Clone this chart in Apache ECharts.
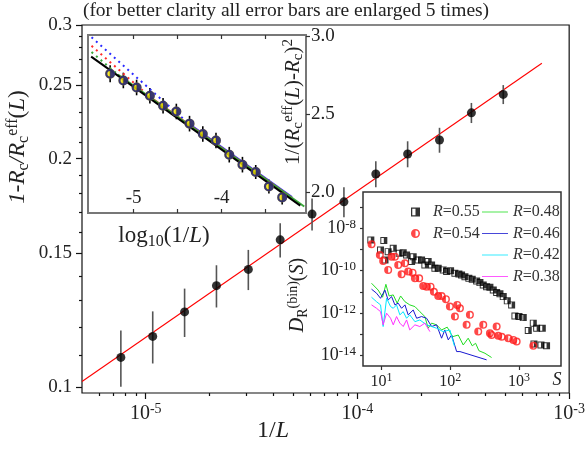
<!DOCTYPE html>
<html>
<head>
<meta charset="utf-8">
<script src="https://cdn.jsdelivr.net/npm/echarts@6/dist/echarts.min.js"></script>
<style>
html, body { margin: 0; padding: 0; background: #fff; }
#chart { width: 588px; height: 449px; }
</style>
</head>
<body>
<div id="chart"></div>
<script>
"use strict";

// main panel: 1/L against 1 - Rc/Rc_eff(L) (error bars already x5)
var invL = [7.63e-6, 1.079e-5, 1.526e-5, 2.158e-5, 3.052e-5, 4.316e-5, 6.104e-5, 8.632e-5, 1.221e-4, 1.726e-4, 2.441e-4, 3.453e-4, 4.883e-4];
var gap = [0.1094, 0.1166, 0.1256, 0.1360, 0.1429, 0.1563, 0.1690, 0.1754, 0.1909, 0.2028, 0.2116, 0.2298, 0.2430];
var gapErr = [0.0093, 0.0092, 0.0092, 0.0087, 0.0087, 0.0081, 0.0082, 0.0080, 0.0075, 0.0080, 0.0080, 0.0070, 0.0070];
var fitLine = [[5e-6, 0.1017], [7.43e-4, 0.2671]];

var xMajor = [1e-5, 1e-4, 1e-3];
var xMinor = [6e-6, 7e-6, 8e-6, 9e-6, 2e-5, 3e-5, 4e-5, 5e-5, 6e-5, 7e-5, 8e-5, 9e-5, 2e-4, 3e-4, 4e-4, 5e-4, 6e-4, 7e-4, 8e-4, 9e-4];
var yMajor = [0.1, 0.15, 0.2, 0.25, 0.3];
var yMinor = [0.11, 0.12, 0.13, 0.14, 0.16, 0.17, 0.18, 0.19, 0.21, 0.22, 0.23, 0.24, 0.26, 0.27, 0.28, 0.29];

// top-left inset: log10(1/L) against 1/(Rc_eff(L)-Rc)^2
var logInvL = [-5.268, -5.118, -4.967, -4.816, -4.666, -4.515, -4.365, -4.214, -4.064, -3.913, -3.763, -3.612, -3.462, -3.311];
var invSq = [2.761, 2.718, 2.673, 2.620, 2.556, 2.519, 2.441, 2.375, 2.333, 2.242, 2.178, 2.131, 2.038, 1.968];
var invSqErr = [0.055, 0.05, 0.05, 0.05, 0.05, 0.05, 0.05, 0.05, 0.05, 0.05, 0.05, 0.045, 0.045, 0.045];
var fitBlack = [[-5.484, 2.871], [-3.105, 1.915]];
var fitGreen = [[-5.18, 2.756], [-3.06, 1.91]];
var fitRed = [[-4.82, 2.615], [-3.2, 1.965]];
var fitBlue = [[-4.36, 2.434], [-3.2, 1.97]];
var dotGreen = [[-5.48, 2.90], [-5.18, 2.756]];
var dotRed = [[-5.48, 2.94], [-4.82, 2.615]];
var dotBlue = [[-5.48, 2.995], [-4.36, 2.434]];

// bottom-right inset, values read as [log10 S, log10 D]
var sq55 = [[0.844,-8.55],[1.033,-8.58],[0.985,-9.02],[1.05,-9.49],[1.096,-9.10],[1.17,-8.94],[1.256,-9.18],[1.315,-9.15],[1.364,-9.26],[1.437,-9.57],[1.46,-9.34],[1.533,-9.49],[1.582,-9.49],[1.63,-9.73],[1.678,-9.57],[1.728,-9.73],[1.776,-9.88],[1.824,-9.88],[1.897,-9.96],[1.946,-10.04],[2.004,-10.0],[2.067,-10.12],[2.125,-10.15],[2.164,-10.2],[2.213,-10.28],[2.27,-10.36],[2.319,-10.4],[2.383,-10.48],[2.431,-10.56],[2.479,-10.67],[2.528,-10.75],[2.576,-10.78],[2.625,-10.91],[2.674,-11.03],[2.722,-11.09],[2.77,-11.22],[2.829,-11.42],[2.892,-11.61],[2.94,-12.13],[2.999,-12.16],[3.061,-12.21],[3.134,-12.82],[3.207,-12.47],[3.256,-12.71],[3.338,-12.71],[3.217,-13.45],[3.319,-13.5],[3.40,-13.54]];
var ci54 = [[0.854,-8.75],[0.975,-9.26],[1.023,-9.54],[1.096,-9.96],[1.146,-9.34],[1.194,-9.34],[1.242,-9.73],[1.291,-10.17],[1.34,-9.65],[1.387,-10.04],[1.451,-10.09],[1.485,-10.36],[1.547,-10.36],[1.606,-10.72],[1.655,-10.75],[1.713,-10.75],[1.761,-10.99],[1.824,-11.19],[1.873,-11.19],[1.936,-11.34],[1.994,-11.69],[2.067,-12.16],[2.10,-11.61],[2.14,-11.77],[2.237,-12.55],[2.285,-12.08],[2.406,-12.87],[2.479,-12.55],[2.576,-12.95],[2.60,-13.03],[2.674,-12.63],[2.697,-13.07],[2.747,-13.11],[2.843,-13.18],[2.916,-13.26],[2.965,-13.34],[3.207,-13.54]];
var ln48 = [[0.854,-10.59],[0.95,-10.91],[1.015,-11.25],[1.063,-10.64],[1.11,-11.19],[1.17,-11.14],[1.227,-11.53],[1.277,-11.19],[1.34,-11.46],[1.41,-11.61],[1.485,-11.69],[1.557,-11.93],[1.63,-12.16],[1.678,-12.71],[1.728,-12.47],[1.80,-12.55],[1.873,-12.79],[1.955,-12.66],[2.033,-13.11],[2.115,-13.03],[2.188,-13.5],[2.26,-13.18],[2.319,-13.54],[2.368,-13.42],[2.416,-13.77],[2.504,-13.89],[2.60,-14.09]];
var ln46 = [[0.854,-10.87],[0.927,-11.06],[0.985,-11.30],[1.048,-10.91],[1.096,-11.38],[1.146,-11.22],[1.194,-11.61],[1.242,-11.53],[1.291,-11.77],[1.34,-11.61],[1.387,-12.08],[1.46,-11.85],[1.51,-12.24],[1.582,-12.16],[1.655,-12.24],[1.728,-12.63],[1.80,-12.55],[1.873,-13.18],[1.92,-12.79],[1.97,-13.26],[2.019,-13.03],[2.092,-13.81],[2.14,-13.81],[2.528,-14.2]];
var ln42 = [[0.854,-11.25],[0.927,-11.46],[0.985,-11.61],[1.023,-12.63],[1.073,-11.30],[1.131,-11.69],[1.17,-11.77],[1.218,-11.61],[1.266,-12.08],[1.315,-11.93],[1.364,-12.24],[1.41,-12.08],[1.485,-12.40],[1.557,-12.32],[1.655,-12.55],[1.728,-12.63],[1.80,-12.71],[1.897,-12.87],[1.994,-12.79],[2.02,-13.1],[2.06,-13.55]];
var ln38 = [[0.854,-11.61],[0.927,-11.77],[0.985,-11.93],[1.023,-12.55],[1.073,-12.0],[1.131,-12.24],[1.17,-12.55],[1.218,-12.16],[1.266,-12.47],[1.315,-12.63],[1.364,-12.32],[1.41,-12.79],[1.485,-12.55],[1.557,-12.63],[1.63,-12.47],[1.703,-12.87]];

var SERIF = '"Liberation Serif", "DejaVu Serif", serif';
var INK = '#222';

// half filled markers (hole = white half)
var SQ_PATH = 'path://M0,0H10V10H0ZM1.4,1.4V8.6H5V1.4Z';
var CI_RIGHT_HOLE = 'path://M5,0A5,5 0 1,1 5,10A5,5 0 1,1 5,0ZM5,1.8L5,8.2A3.2,3.2 0 0,0 5,1.8Z';
var CI_LEFT_HOLE = 'path://M5,0A5,5 0 1,1 5,10A5,5 0 1,1 5,0ZM5,2.2A2.8,2.8 0 0,0 5,7.8Z';

function rich(fs) {
	var small = Math.round(fs * 0.7);
	return {
		n: { fontFamily: SERIF, fontSize: fs, lineHeight: fs + 4, color: INK },
		i: { fontFamily: SERIF, fontSize: fs, fontStyle: 'italic', lineHeight: fs + 4, color: INK },
		s: { fontFamily: SERIF, fontSize: small, lineHeight: small, verticalAlign: 'bottom', color: INK },
		p: { fontFamily: SERIF, fontSize: small, lineHeight: small, verticalAlign: 'top', color: INK }
	};
}

function supRich(fs) {
	return { p: { fontFamily: SERIF, fontSize: fs, lineHeight: fs, verticalAlign: 'top', color: INK } };
}

function label(text, x, y, fs, rot, zl) {
	return {
		type: 'text', x: x, y: y, rotation: rot || 0, zlevel: zl || 0, z: 50,
		style: {
			text: text, rich: rich(fs), fontFamily: SERIF, fontSize: fs, fill: INK,
			align: 'center', verticalAlign: 'middle', textAlign: 'center', textVerticalAlign: 'middle'
		}
	};
}

function errBars(xs, ys, es) {
	return xs.map(function (x, i) { return [x, ys[i] - es[i], ys[i] + es[i]]; });
}

function renderErr(color) {
	return function (params, api) {
		var a = api.coord([api.value(0), api.value(1)]);
		var b = api.coord([api.value(0), api.value(2)]);
		return { type: 'line', shape: { x1: a[0], y1: a[1], x2: b[0], y2: b[1] }, style: { stroke: color, lineWidth: 1.6 } };
	};
}

function pairs(xs, ys) {
	return xs.map(function (x, i) { return [x, ys[i]]; });
}

var chart = echarts.init(document.getElementById('chart'));

var legendText = {
	fontFamily: SERIF, fontSize: 16, lineHeight: 16, color: '#333',
	rich: { i: { fontFamily: SERIF, fontSize: 16, lineHeight: 16, fontStyle: 'italic', color: '#333' } }
};
var LINE_ICON = 'path://M0,7.6H26V8.4H0Z';

var option = {
	animation: false,
	grid: [
		{ left: 82, top: 25, width: 488, height: 368, show: true, borderColor: '#111', borderWidth: 1.2, backgroundColor: 'transparent' },
		{ left: 88, top: 35, width: 218, height: 178, show: true, borderColor: '#777', borderWidth: 2, backgroundColor: '#fff', zlevel: 1 },
		{ left: 363, top: 192, width: 198, height: 174, show: true, borderColor: '#333', borderWidth: 1.5, backgroundColor: '#fff', zlevel: 1 }
	],
	xAxis: [
		{
			type: 'log', gridIndex: 0, position: 'bottom', min: 5e-6, max: 1e-3,
			axisLine: { show: false }, splitLine: { show: false },
			axisTick: { show: true, length: 6, customValues: xMajor, lineStyle: { color: '#111', width: 1.2 } },
			axisLabel: {
				show: true, customValues: xMajor, margin: 9, color: INK, fontFamily: SERIF, fontSize: 20, lineHeight: 24,
				formatter: function (v) { return '10{p|' + Math.round(Math.log10(v)) + '}'; },
				rich: supRich(14)
			}
		},
		{
			type: 'log', gridIndex: 0, position: 'bottom', min: 5e-6, max: 1e-3,
			axisLine: { show: false }, splitLine: { show: false }, axisLabel: { show: false },
			axisTick: { show: true, length: 3, customValues: xMinor, lineStyle: { color: '#111', width: 1.2 } }
		},
		{
			type: 'value', gridIndex: 1, position: 'bottom', min: -5.52, max: -3.04, zlevel: 1,
			axisLine: { show: false }, splitLine: { show: false },
			axisTick: { show: true, inside: true, length: 4, customValues: [-5, -4.5, -4, -3.5], lineStyle: { color: '#333', width: 1.2 } },
			axisLabel: { show: true, inside: true, margin: 5, customValues: [-5, -4], color: INK, fontFamily: SERIF, fontSize: 19 }
		},
		{
			type: 'value', gridIndex: 1, position: 'top', min: -5.52, max: -3.04, zlevel: 1,
			axisLine: { show: false }, splitLine: { show: false }, axisLabel: { show: false },
			axisTick: { show: true, inside: true, length: 4, customValues: [-5, -4.5, -4, -3.5], lineStyle: { color: '#333', width: 1.2 } }
		},
		{
			type: 'value', gridIndex: 2, position: 'bottom', min: 0.73, max: 3.61, zlevel: 1,
			axisLine: { show: false }, splitLine: { show: false },
			axisTick: { show: true, length: 4, customValues: [1, 2, 3], lineStyle: { color: '#333', width: 1.2 } },
			axisLabel: {
				show: true, customValues: [1, 2, 3], margin: 6, color: INK, fontFamily: SERIF, fontSize: 16, lineHeight: 19,
				formatter: function (v) { return '10{p|' + v + '}'; },
				rich: supRich(12)
			}
		}
	],
	yAxis: [
		{
			type: 'log', gridIndex: 0, position: 'left', min: 0.0982, max: 0.3,
			axisLine: { show: false }, splitLine: { show: false },
			axisTick: { show: true, length: 6, customValues: yMajor, lineStyle: { color: '#111', width: 1.2 } },
			axisLabel: {
				show: true, customValues: yMajor, margin: 10, color: INK, fontFamily: SERIF, fontSize: 19,
				showMinLabel: true, showMaxLabel: true,
				formatter: function (v) { return String(Math.round(v * 100) / 100); }
			}
		},
		{
			type: 'log', gridIndex: 0, position: 'left', min: 0.0982, max: 0.3,
			axisLine: { show: false }, splitLine: { show: false }, axisLabel: { show: false },
			axisTick: { show: true, length: 3, customValues: yMinor, lineStyle: { color: '#111', width: 1.2 } }
		},
		{
			type: 'value', gridIndex: 1, position: 'right', min: 1.868, max: 3.0096, zlevel: 1,
			axisLine: { show: false }, splitLine: { show: false },
			axisTick: { show: true, length: 4, customValues: [2, 2.5, 3], lineStyle: { color: '#333', width: 1.2 } },
			axisLabel: {
				show: true, customValues: [2, 2.5, 3], margin: 5, color: INK, fontFamily: SERIF, fontSize: 19,
				formatter: function (v) { return v.toFixed(1); }
			}
		},
		{
			type: 'value', gridIndex: 2, position: 'left', min: -14.49, max: -6.29, zlevel: 1,
			axisLine: { show: false }, splitLine: { show: false },
			axisTick: { show: true, length: 3, customValues: [-14, -13, -12, -11, -10, -9, -8, -7], lineStyle: { color: '#333', width: 1.2 } },
			axisLabel: {
				show: true, customValues: [-14, -12, -10, -8], margin: 7, color: INK, fontFamily: SERIF, fontSize: 18, lineHeight: 21,
				formatter: function (v) { return '10{p|' + v + '}'; },
				rich: supRich(13)
			}
		}
	],
	legend: [
		{
			zlevel: 1, left: 406, top: 199, orient: 'vertical', selectedMode: false,
			itemWidth: 9, itemHeight: 9, itemGap: 5.5,
			data: [{ name: 'R=0.55', icon: SQ_PATH }, { name: 'R=0.54', icon: CI_RIGHT_HOLE }],
			formatter: function (n) { return '{i|R}=' + n.split('=')[1]; },
			textStyle: Object.assign({ padding: [0, 0, 0, 8] }, legendText)
		},
		{
			zlevel: 1, left: 477, top: 199, orient: 'vertical', selectedMode: false,
			itemWidth: 26, itemHeight: 16, itemGap: 5.5,
			data: [
				{ name: 'R=0.48', icon: LINE_ICON },
				{ name: 'R=0.46', icon: LINE_ICON },
				{ name: 'R=0.42', icon: LINE_ICON },
				{ name: 'R=0.38', icon: LINE_ICON }
			],
			formatter: function (n) { return '{i|R}=' + n.split('=')[1]; },
			textStyle: legendText
		}
	],
	graphic: {
		elements: [
			label('(for better clarity all error bars are enlarged 5 times)', 286, 11, 19.5),
			label('{i|1-R}{s|c}{i|/R}{s|c}{p|eff}{n|(}{i|L}{n|)}', 18, 147, 23, Math.PI / 2),
			label('{n|1/}{i|L}', 273, 431, 24),
			label('{n|log}{s|10}{n|(1/}{i|L}{n|)}', 164, 236, 23, 0, 1),
			label('{n|1/(}{i|R}{s|c}{p|eff}{n|(}{i|L}{n|)-}{i|R}{s|c}{n|)}{p|2}', 293, 102, 21, Math.PI / 2, 1),
			label('{i|D}{s|R}{p|(bin)}{n|(}{i|S}{n|)}', 298, 295, 20, Math.PI / 2),
			label('{i|S}', 557, 380, 18, 0, 1)
		]
	},
	series: [
		// main panel
		{
			type: 'line', xAxisIndex: 0, yAxisIndex: 0, data: fitLine, symbol: 'none',
			lineStyle: { color: '#ff0000', width: 1.1 }, z: 2
		},
		{
			type: 'custom', xAxisIndex: 0, yAxisIndex: 0, encode: { x: 0, y: [1, 2] },
			data: errBars(invL, gap, gapErr), renderItem: renderErr('#555'), z: 3
		},
		{
			type: 'scatter', xAxisIndex: 0, yAxisIndex: 0, data: pairs(invL, gap),
			symbol: 'circle', symbolSize: 9, itemStyle: { color: '#000' }, z: 4
		},
		// top-left inset
		{ type: 'line', xAxisIndex: 2, yAxisIndex: 2, zlevel: 1, data: dotBlue, symbol: 'none', lineStyle: { color: '#2a2aff', width: 2, type: [2, 4] } },
		{ type: 'line', xAxisIndex: 2, yAxisIndex: 2, zlevel: 1, data: dotRed, symbol: 'none', lineStyle: { color: '#ff2a2a', width: 2, type: [2, 4] } },
		{ type: 'line', xAxisIndex: 2, yAxisIndex: 2, zlevel: 1, data: dotGreen, symbol: 'none', lineStyle: { color: '#3aa83a', width: 2, type: [2, 4] } },
		{ type: 'line', xAxisIndex: 2, yAxisIndex: 2, zlevel: 1, data: fitBlue, symbol: 'none', lineStyle: { color: '#2a2aff', width: 2.2 } },
		{ type: 'line', xAxisIndex: 2, yAxisIndex: 2, zlevel: 1, data: fitRed, symbol: 'none', lineStyle: { color: '#ff2a2a', width: 2 } },
		{ type: 'line', xAxisIndex: 2, yAxisIndex: 2, zlevel: 1, data: fitGreen, symbol: 'none', lineStyle: { color: '#3aa83a', width: 2 } },
		{ type: 'line', xAxisIndex: 2, yAxisIndex: 2, zlevel: 1, data: fitBlack, symbol: 'none', lineStyle: { color: '#000', width: 2 } },
		{
			type: 'custom', xAxisIndex: 2, yAxisIndex: 2, zlevel: 1, encode: { x: 0, y: [1, 2] },
			data: errBars(logInvL, invSq, invSqErr), renderItem: renderErr('#000'), z: 3
		},
		{
			type: 'scatter', xAxisIndex: 2, yAxisIndex: 2, zlevel: 1, data: pairs(logInvL, invSq),
			symbol: 'circle', symbolSize: 10, itemStyle: { color: '#f4e200' }, z: 4
		},
		{
			type: 'scatter', xAxisIndex: 2, yAxisIndex: 2, zlevel: 1, data: pairs(logInvL, invSq),
			symbol: CI_LEFT_HOLE, symbolSize: 10, itemStyle: { color: '#0c0c80' }, z: 5
		},
		// bottom-right inset
		{ name: 'R=0.48', type: 'line', xAxisIndex: 4, yAxisIndex: 3, zlevel: 1, data: ln48, symbol: 'none', itemStyle: { color: '#22dd22' }, lineStyle: { color: '#22dd22', width: 1 } },
		{ name: 'R=0.46', type: 'line', xAxisIndex: 4, yAxisIndex: 3, zlevel: 1, data: ln46, symbol: 'none', itemStyle: { color: '#1818d0' }, lineStyle: { color: '#1818d0', width: 1 } },
		{ name: 'R=0.42', type: 'line', xAxisIndex: 4, yAxisIndex: 3, zlevel: 1, data: ln42, symbol: 'none', itemStyle: { color: '#00e6ff' }, lineStyle: { color: '#00e6ff', width: 1 } },
		{ name: 'R=0.38', type: 'line', xAxisIndex: 4, yAxisIndex: 3, zlevel: 1, data: ln38, symbol: 'none', itemStyle: { color: '#ff30ff' }, lineStyle: { color: '#ff30ff', width: 1 } },
		{ name: 'sqBack', type: 'scatter', xAxisIndex: 4, yAxisIndex: 3, zlevel: 1, data: sq55, symbol: 'rect', symbolSize: 7, itemStyle: { color: '#fff' }, z: 3 },
		{ name: 'R=0.55', type: 'scatter', xAxisIndex: 4, yAxisIndex: 3, zlevel: 1, data: sq55, symbol: SQ_PATH, symbolSize: 7, itemStyle: { color: '#000' }, z: 4 },
		{ name: 'ciBack', type: 'scatter', xAxisIndex: 4, yAxisIndex: 3, zlevel: 1, data: ci54, symbol: 'circle', symbolSize: 8, itemStyle: { color: '#fff' }, z: 3 },
		{ name: 'R=0.54', type: 'scatter', xAxisIndex: 4, yAxisIndex: 3, zlevel: 1, data: ci54, symbol: CI_RIGHT_HOLE, symbolSize: 8, itemStyle: { color: '#ff1a1a' }, z: 4 }
	]
};

chart.setOption(option);
</script>
</body>
</html>
